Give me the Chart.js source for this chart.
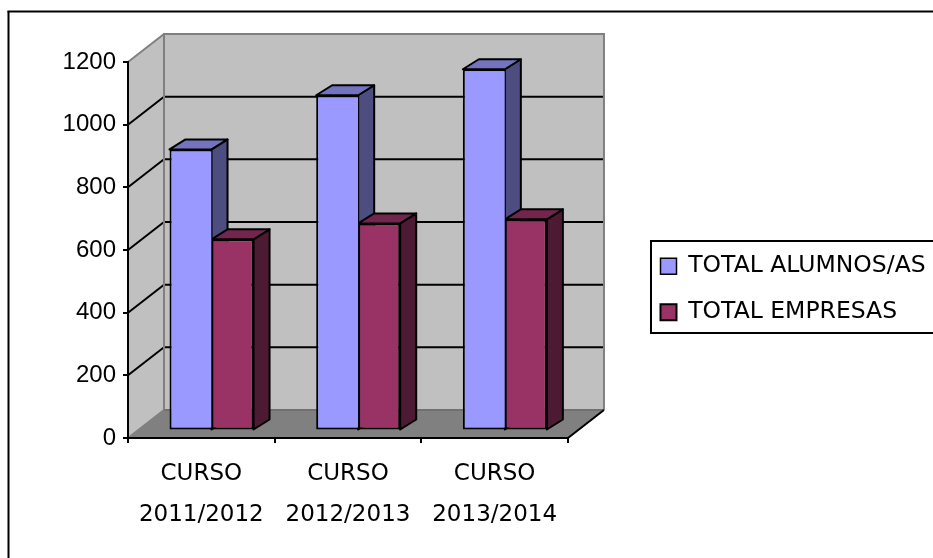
<!DOCTYPE html>
<html lang="es">
<head>
  <meta charset="UTF-8" />
  <title>Alumnos y empresas por curso</title>
  <script src="https://cdn.jsdelivr.net/npm/chart.js"></script>
  <style>
    html, body { margin: 0; background: white; overflow: hidden; }
    canvas { display: block; }
  </style>
</head>
<body>
<canvas id="chart" width="933" height="558"></canvas>
<script>
  const cursos = [['CURSO', '2011/2012'], ['CURSO', '2012/2013'], ['CURSO', '2013/2014']];
  const totalAlumnos = [897, 1070, 1153];
  const totalEmpresas = [610, 661, 674];

  const LABEL_FONT = 'Tahoma, "DejaVu Sans", sans-serif';
  // fondo del grafico 3D
  const WALL_DX = 36, WALL_DY = -28;
  // las barras van un poco por delante de la pared
  const BAR_OX = 10.2, BAR_OY = -7.5;
  const BAR_DX = 16, BAR_DY = -10;
  const LEGEND_LEFT = 651, LEGEND_TOP = 241, LEGEND_HEIGHT = 92;

  function poly(ctx, pts, fill, stroke, width) {
    ctx.beginPath();
    pts.forEach((p, i) => i ? ctx.lineTo(p[0], p[1]) : ctx.moveTo(p[0], p[1]));
    ctx.closePath();
    if (fill) { ctx.fillStyle = fill; ctx.fill(); }
    if (stroke) { ctx.strokeStyle = stroke; ctx.lineWidth = width; ctx.lineJoin = 'round'; ctx.stroke(); }
  }

  function line(ctx, x0, y0, x1, y1, color) {
    ctx.beginPath();
    ctx.moveTo(x0, y0);
    ctx.lineTo(x1, y1);
    ctx.strokeStyle = color;
    ctx.lineWidth = 2;
    ctx.stroke();
  }

  const fondo3d = {
    id: 'fondo3d',
    afterLayout(chart) {
      // mueve la leyenda a su sitio (el padding de la leyenda desplaza el contenido)
      const lg = chart.legend;
      lg.left = LEGEND_LEFT - 13; lg.right = 960; lg.width = lg.right - lg.left;
      lg.top = 232; lg.bottom = 420; lg.height = lg.bottom - lg.top;
    },
    beforeDraw(chart) {
      const ctx = chart.ctx;
      const { left, right, top, bottom } = chart.chartArea;
      const y = chart.scales.y;
      ctx.save();
      // marco exterior
      line(ctx, 8.5, 558, 8.5, 11, '#000');
      line(ctx, 7.5, 11.5, 933, 11.5, '#000');
      // paredes y suelo
      poly(ctx, [[left + WALL_DX, top + WALL_DY], [right + WALL_DX, top + WALL_DY], [right + WALL_DX, bottom + WALL_DY], [left + WALL_DX, bottom + WALL_DY]], '#c0c0c0');
      poly(ctx, [[left, top], [left + WALL_DX, top + WALL_DY], [left + WALL_DX, bottom + WALL_DY], [left, bottom]], '#c0c0c0');
      poly(ctx, [[left, bottom], [right, bottom], [right + WALL_DX, bottom + WALL_DY], [left + WALL_DX, bottom + WALL_DY]], '#808080');
      // rejilla
      y.ticks.forEach(t => {
        const py = y.getPixelForValue(t.value);
        if (t.value === 0 || t.value === y.max) return;
        line(ctx, left, py, left + WALL_DX, py + WALL_DY, '#000');
        line(ctx, left + WALL_DX, py + WALL_DY, right + WALL_DX, py + WALL_DY, '#000');
      });
      // bordes grises
      line(ctx, left, top, left + WALL_DX, top + WALL_DY, '#808080');
      line(ctx, left + WALL_DX - 1, top + WALL_DY, right + WALL_DX + 1, top + WALL_DY, '#808080');
      line(ctx, left + WALL_DX, top + WALL_DY, left + WALL_DX, bottom + WALL_DY, '#808080');
      line(ctx, right + WALL_DX, top + WALL_DY, right + WALL_DX, bottom + WALL_DY, '#808080');
      line(ctx, left + WALL_DX, bottom + WALL_DY, right + WALL_DX, bottom + WALL_DY, '#707070');
      line(ctx, left, bottom, left + WALL_DX, bottom + WALL_DY, '#808080');
      line(ctx, right, bottom, right + WALL_DX, bottom + WALL_DY, '#000');
      // marco de la leyenda
      ctx.strokeStyle = '#000';
      ctx.lineWidth = 2;
      ctx.strokeRect(LEGEND_LEFT, LEGEND_TOP, 300, LEGEND_HEIGHT);
      ctx.restore();
    },
    beforeDatasetsDraw(chart) {
      const ctx = chart.ctx;
      ctx.save();
      ctx.translate(BAR_OX, BAR_OY);
      chart.data.datasets.forEach((ds, i) => {
        chart.getDatasetMeta(i).data.forEach(bar => {
          const x0 = bar.x - bar.width / 2, x1 = bar.x + bar.width / 2;
          const yt = bar.y, yb = bar.base;
          poly(ctx, [[x1, yt], [x1 + BAR_DX, yt + BAR_DY], [x1 + BAR_DX, yb + BAR_DY], [x1, yb]], ds.sideColor, '#000', 2);
          poly(ctx, [[x0, yt], [x0 + BAR_DX, yt + BAR_DY], [x1 + BAR_DX, yt + BAR_DY], [x1, yt]], ds.topColor, '#000', 2);
        });
      });
    },
    afterDatasetsDraw(chart) {
      chart.ctx.restore();
    }
  };

  new Chart(document.getElementById('chart'), {
    type: 'bar',
    data: {
      labels: cursos,
      datasets: [
        { label: 'TOTAL ALUMNOS/AS', data: totalAlumnos, backgroundColor: '#9999ff', sideColor: '#4d4d80', topColor: '#7373bf',
          borderColor: '#000', borderWidth: { left: 2, top: 2, bottom: 2, right: 0 }, borderSkipped: false, clip: false },
        { label: 'TOTAL EMPRESAS', data: totalEmpresas, backgroundColor: '#993366', sideColor: '#4d1a33', topColor: '#73264d',
          borderColor: '#000', borderWidth: 2, borderSkipped: false, clip: false }
      ]
    },
    options: {
      responsive: false,
      animation: false,
      layout: { padding: { top: 62, left: 0, right: 175.7, bottom: 0 } },
      datasets: { bar: { categoryPercentage: 0.573, barPercentage: 1 } },
      plugins: {
        tooltip: { enabled: false },
        legend: {
          position: 'right',
          align: 'start',
          labels: {
            color: '#000',
            font: { family: LABEL_FONT, size: 23.5 },
            boxWidth: 16,
            boxHeight: 16,
            padding: 22.5
          }
        }
      },
      scales: {
        x: {
          afterFit: s => { s.height = 120; },
          border: { color: '#000', width: 2 },
          grid: { drawOnChartArea: false, tickColor: '#000', lineWidth: 2, tickLength: 5, offset: true },
          ticks: { color: '#000', font: { family: LABEL_FONT, size: 23, lineHeight: 1.78 }, padding: 11, maxRotation: 0, autoSkip: false }
        },
        y: {
          min: 0,
          max: 1200,
          afterFit: s => { s.width = 128; },
          border: { color: '#000', width: 2 },
          grid: { drawOnChartArea: false, tickColor: '#000', lineWidth: 2, tickLength: 5 },
          ticks: { color: '#000', stepSize: 200, callback: v => String(v), font: { family: '"Liberation Sans", Arial, sans-serif', size: 24 }, padding: 7 }
        }
      }
    },
    plugins: [fondo3d]
  });
</script>
</body>
</html>
